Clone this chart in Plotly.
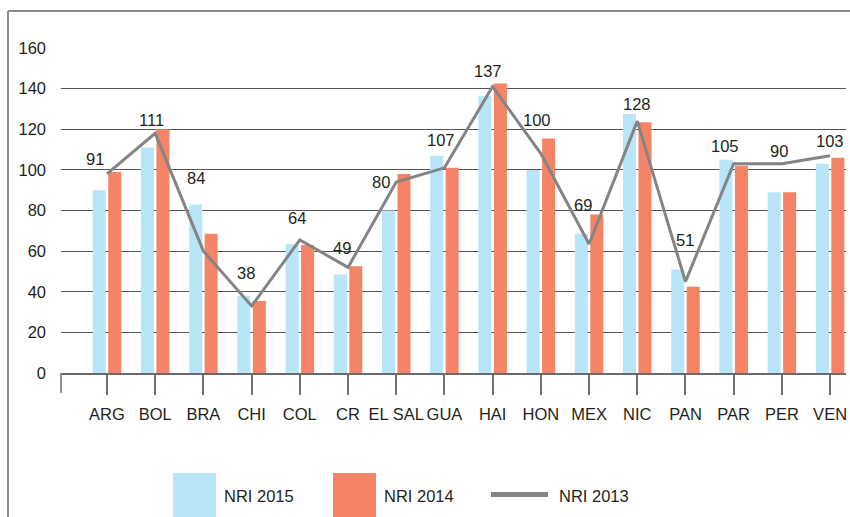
import plotly.graph_objects as go

# ---------------- data ----------------
categories = ["ARG", "BOL", "BRA", "CHI", "COL", "CR", "EL SAL", "GUA",
              "HAI", "HON", "MEX", "NIC", "PAN", "PAR", "PER", "VEN"]
nri_2015 = [90, 111, 83, 38, 63.5, 48.5, 80, 107, 136.5, 100, 68.5, 127.5, 51, 105, 89, 103]
nri_2014 = [99, 120, 68.5, 35.5, 63, 52.5, 98, 101, 142.5, 115.5, 78, 123.5, 42.5, 102, 89, 106]
nri_2013 = [98, 118, 60, 33, 65.5, 52, 94, 101, 141, 108, 63.5, 124, 45, 103, 103, 107]
labels_2015 = [91, 111, 84, 38, 64, 49, 80, 107, 137, 100, 69, 128, 51, 105, 90, 103]
y_ticks = [0, 20, 40, 60, 80, 100, 120, 140, 160]

# ---------------- style ----------------
FONT = "Liberation Sans, Arial, Helvetica, sans-serif"
FS = 16.5
TXT = "#231f20"
C15 = "#b9e5f9"
C14 = "#f58466"
C13 = "#848484"
label_xshift = [-12, -4, -7, -6, -3, -6, -15, -3, -5, -4, -6, 0, 0, -9, -3, 0]
label_yshift = [31, 28, 26, 23, 26, 26, 29, 16, 25, 50, 29, 10, 29, 14, 41, 23]

xpos = list(range(len(categories)))

fig = go.Figure()
fig.add_trace(go.Bar(x=xpos, y=nri_2015, name="NRI 2015", marker_color=C15,
                     marker_line_width=0, showlegend=False))
fig.add_trace(go.Bar(x=xpos, y=nri_2014, name="NRI 2014", marker_color=C14,
                     marker_line_width=0, showlegend=False))
fig.add_trace(go.Scatter(x=xpos, y=nri_2013, name="NRI 2013", mode="lines",
                         line=dict(color=C13, width=3), showlegend=False))

for i, v in enumerate(labels_2015):
    fig.add_annotation(x=xpos[i], y=nri_2015[i], text=str(v), showarrow=False,
                       xanchor="center", yanchor="middle",
                       xshift=label_xshift[i], yshift=label_yshift[i],
                       font=dict(family=FONT, size=FS, color=TXT))

# plot-area geometry (px) for paper coords
L, R, T, B = 61, 846, 48, 373
W, H = R - L, B - T
def px(x): return (x - L) / W
def py(y): return (B - y) / H

# custom legend
fig.add_shape(type="rect", xref="paper", yref="paper", x0=px(173), x1=px(216),
              y0=py(473), y1=py(520), fillcolor=C15, line_width=0)
fig.add_shape(type="rect", xref="paper", yref="paper", x0=px(333), x1=px(376),
              y0=py(473), y1=py(520), fillcolor=C14, line_width=0)
fig.add_shape(type="line", xref="paper", yref="paper", x0=px(491), x1=px(548),
              y0=py(494.5), y1=py(494.5), line=dict(color=C13, width=5))
for name, xl in [("NRI 2015", 222), ("NRI 2014", 382), ("NRI 2013", 557)]:
    fig.add_annotation(xref="paper", yref="paper", x=px(xl), y=py(496), text=name,
                       showarrow=False, xanchor="left", yanchor="middle",
                       font=dict(family=FONT, size=FS, color=TXT))

# frame
fig.add_shape(type="line", xref="paper", yref="paper", x0=px(8), x1=px(8),
              y0=py(11), y1=py(520), line=dict(color="#8a8a8a", width=2))
fig.add_shape(type="line", xref="paper", yref="paper", x0=px(8), x1=px(852),
              y0=py(11), y1=py(11), line=dict(color="#8a8a8a", width=2))
# left edge tick of the category axis
fig.add_shape(type="line", xref="paper", yref="paper", x0=0, x1=0,
              y0=0, y1=py(393), line=dict(color="#707070", width=1.5))

fig.update_layout(
    width=850, height=517,
    margin=dict(l=L, r=850 - R, t=T, b=517 - B, autoexpand=False),
    paper_bgcolor="white", plot_bgcolor="white",
    barmode="group", bargap=0.357, bargroupgap=0.16,
    showlegend=False,
    font=dict(family=FONT, size=FS, color=TXT),
    xaxis=dict(range=[-0.954, 15.33], tickmode="array", tickvals=xpos,
               ticktext=categories, ticks="outside", ticklen=20, tickwidth=1.5,
               tickcolor="#707070", showline=True, linecolor="#6a6a6a", linewidth=2,
               showgrid=False, zeroline=False, ticklabelstandoff=5, tickangle=0,
               automargin=False,
               tickfont=dict(family=FONT, size=FS, color=TXT)),
    yaxis=dict(range=[0, 160], tickmode="array", tickvals=y_ticks,
               showgrid=True, gridcolor="#555555", gridwidth=1, zeroline=False,
               showline=False, ticks="", ticklabelstandoff=14, automargin=False,
               tickfont=dict(family=FONT, size=FS, color=TXT)),
)

fig.write_html("out.html", config={"displayModeBar": False},
               post_script="document.body.style.margin='0px';document.body.style.padding='0px';")
